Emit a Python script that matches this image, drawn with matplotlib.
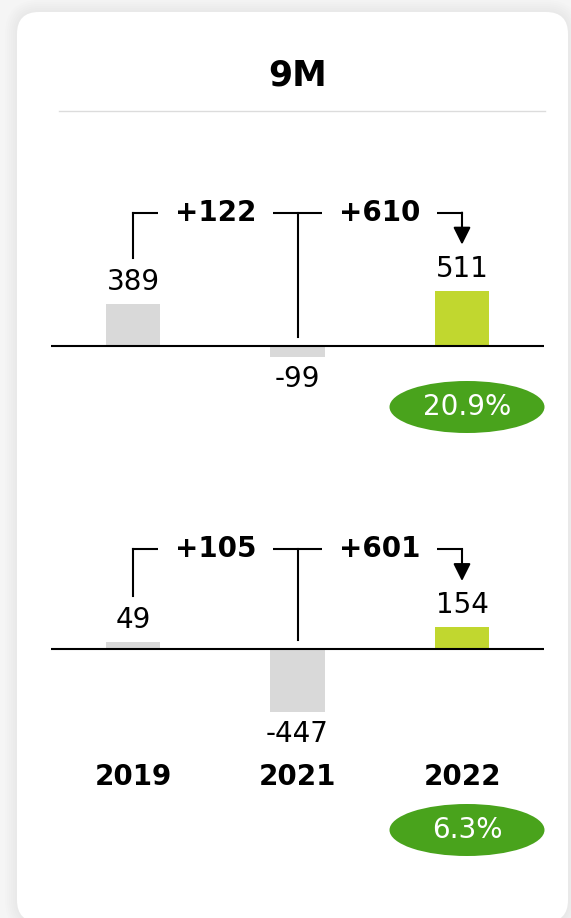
import matplotlib
matplotlib.use("Agg")
import matplotlib.pyplot as plt
from matplotlib.patches import FancyBboxPatch, Ellipse
from matplotlib.transforms import blended_transform_factory

title = "9M"
years = ["2019", "2021", "2022"]

top_values = [389, -99, 511]
top_deltas = ["+122", "+610"]
top_margin = "20.9%"

bottom_values = [49, -447, 154]
bottom_deltas = ["+105", "+601"]
bottom_margin = "6.3%"

W, H, DPI = 571, 918, 100
GREY_BAR = "#d9d9d9"
LIME = "#c1d72f"
GREEN = "#49a31c"

fig = plt.figure(figsize=(W / DPI, H / DPI), dpi=DPI)
fig.patch.set_facecolor("#f5f5f5")

# background axes in pixel units (y down)
bg = fig.add_axes([0, 0, 1, 1])
bg.set_xlim(0, W)
bg.set_ylim(H, 0)
bg.axis("off")

# soft shadow + white card
for grow in [12, 10, 8, 6, 4, 2]:
    bg.add_patch(FancyBboxPatch((17 - grow, 12 - grow), 551 + 2 * grow, 910 + 2 * grow,
                                boxstyle="round,pad=0,rounding_size=%d" % (22 + grow),
                                fc="black", ec="none", alpha=0.008))
bg.add_patch(FancyBboxPatch((17, 12), 551, 910, boxstyle="round,pad=0,rounding_size=22",
                            fc="white", ec="none"))

bg.text(298, 76, title, ha="center", va="center", fontsize=25, fontweight="bold")
bg.plot([59, 545], [111, 111], color="#dcdcdc", lw=1)


def draw_chart(box, ylim, values, deltas):
    left, top, right, bottom = box
    ax = fig.add_axes([left / W, 1 - bottom / H, (right - left) / W, (bottom - top) / H])
    ax.set_xlim(-0.5, len(values) - 0.5)
    ax.set_ylim(*ylim)
    ax.axis("off")
    upp = (ylim[1] - ylim[0]) / (bottom - top)  # data units per pixel

    x = list(range(len(values)))
    colors = [GREY_BAR] * (len(values) - 1) + [LIME]
    ax.bar(x, values, width=0.33, color=colors, zorder=2)
    ax.axhline(0, color="black", lw=1.5, zorder=3)

    for xi, v in zip(x, values):
        y = v + 22 * upp if v >= 0 else v - 22 * upp
        ax.text(xi, y, str(v), ha="center", va="center", fontsize=20)

    # bracket connectors
    level = max(values) + 78 * upp
    ends = [v + 46 * upp if v > 0 else 9 * upp for v in values]
    ax.plot([x[0], x[-1]], [level, level], color="black", lw=1.5,
            solid_capstyle="projecting", zorder=3)
    for xi, e in zip(x[:-1], ends[:-1]):
        ax.plot([xi, xi], [e, level], color="black", lw=1.5,
                solid_capstyle="projecting", zorder=3)
    ax.annotate("", xy=(x[-1], ends[-1]), xytext=(x[-1], level),
                arrowprops=dict(arrowstyle="-|>,head_length=0.7,head_width=0.35",
                                mutation_scale=15, lw=1.5, color="black",
                                shrinkA=0, shrinkB=0), zorder=3)
    for i, d in enumerate(deltas):
        ax.text((x[i] + x[i + 1]) / 2, level, d, ha="center", va="center",
                fontsize=20, fontweight="bold", zorder=4,
                bbox=dict(boxstyle="square,pad=0.6", fc="white", ec="none"))
    return ax


ax1 = draw_chart((50.75, 150, 544.25, 450), (-950, 1800), top_values, top_deltas)
ax2 = draw_chart((50.75, 480, 544.25, 800), (-1065, 1190), bottom_values, bottom_deltas)

# year labels under the lower chart
tr = blended_transform_factory(ax2.transData, bg.transData)
for i, yr in enumerate(years):
    ax2.text(i, 777, yr, transform=tr, ha="center", va="center",
             fontsize=20, fontweight="bold")

# margin badges
for cy, label in [(407, top_margin), (830, bottom_margin)]:
    bg.add_patch(Ellipse((467, cy), 155, 52, fc=GREEN, ec="none"))
    bg.text(467, cy, label, ha="center", va="center", fontsize=20, color="white")

fig.savefig("out.png", dpi=DPI, facecolor=fig.get_facecolor())
